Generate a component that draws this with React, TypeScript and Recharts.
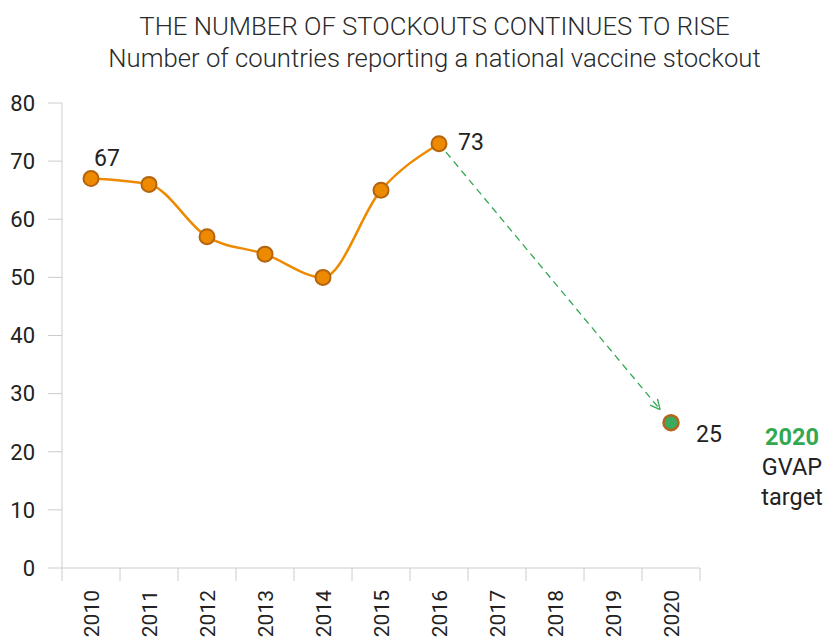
import React from "react";
import { LineChart, Line, XAxis, YAxis, ReferenceLine } from "recharts";

document.body.style.margin = "0";

// data
const years = ["2010", "2011", "2012", "2013", "2014", "2015", "2016", "2017", "2018", "2019", "2020"];
const stockouts = [67, 66, 57, 54, 50, 65, 73, null, null, null, null];
const gvapTarget = [null, null, null, null, null, null, null, null, null, null, 25];
const labelledYears = ["2010", "2016"];
const yTicks = [0, 10, 20, 30, 40, 50, 60, 70, 80];

const data = years.map((year, i) => ({
  year,
  stockouts: stockouts[i],
  target: gvapTarget[i],
}));

const lastActual = data.filter((d) => d.stockouts != null).slice(-1)[0];
const targetPoint = data.filter((d) => d.target != null)[0];

const FONT = "Roboto, 'DejaVu Sans', sans-serif";
const ORANGE = "#ee8a00";
const ORANGE_DARK = "#b3640f";
const GREEN = "#32a852";
const STEP = 58; // width of one category on the x axis

const YearTick = (props: any) => {
  const { x, y, payload, index } = props;
  const isLast = index === years.length - 1;
  return (
    <g>
      <line x1={x - STEP / 2} x2={x - STEP / 2} y1={y} y2={y + 13} stroke="#cccccc" />
      {isLast && <line x1={x + STEP / 2} x2={x + STEP / 2} y1={y} y2={y + 13} stroke="#cccccc" />}
      <text
        x={x}
        y={y + 22}
        transform={`rotate(-90 ${x} ${y + 22})`}
        textAnchor="end"
        dy="0.36em"
        fontSize={21}
        fontFamily={FONT}
        fill="#222"
      >
        {payload.value}
      </text>
    </g>
  );
};

const StockoutLabel = (props: any) => {
  const { x, y, value, index } = props;
  const year = years[index];
  if (!labelledYears.includes(year)) return null;
  // first point: label above, last point: label to the right
  const first = index === 0;
  return (
    <text
      x={first ? x + 3 : x + 19}
      y={first ? y - 13 : y + 6}
      fontSize={23}
      fontFamily={FONT}
      fill="#222"
    >
      {value}
    </text>
  );
};

const TargetLabel = (props: any) => {
  const { x, y, value } = props;
  if (value == null) return null;
  return (
    <text x={x + 25} y={y + 19} fontSize={23} fontFamily={FONT} fill="#222">
      {value}
    </text>
  );
};

// dashed arrow, trimmed so it doesn't touch the markers
const DashedArrow = (props: any) => {
  const { x1, y1, x2, y2 } = props;
  const dx = x2 - x1;
  const dy = y2 - y1;
  const len = Math.sqrt(dx * dx + dy * dy);
  const ux = dx / len;
  const uy = dy / len;
  const sx = x1 + ux * 11;
  const sy = y1 + uy * 11;
  const ex = x2 - ux * 17;
  const ey = y2 - uy * 17;
  const head = 11;
  const ang = Math.atan2(uy, ux);
  const a1 = ang + Math.PI - 0.45;
  const a2 = ang + Math.PI + 0.45;
  return (
    <g>
      <line x1={sx} y1={sy} x2={ex} y2={ey} stroke={GREEN} strokeWidth={1.3} strokeDasharray="7 5" />
      <line x1={ex} y1={ey} x2={ex + Math.cos(a1) * head} y2={ey + Math.sin(a1) * head} stroke={GREEN} strokeWidth={1.3} />
      <line x1={ex} y1={ey} x2={ex + Math.cos(a2) * head} y2={ey + Math.sin(a2) * head} stroke={GREEN} strokeWidth={1.3} />
    </g>
  );
};

export default function App() {
  return (
    <div style={{ position: "relative", width: 827, height: 639, background: "#fff", fontFamily: FONT }}>
      <div
        style={{
          position: "absolute",
          top: 10,
          left: 42,
          width: 785,
          textAlign: "center",
          color: "#2a2a2a",
          fontSize: 25.7,
          fontWeight: 300,
          lineHeight: "32px",
        }}
      >
        <div>THE NUMBER OF STOCKOUTS CONTINUES TO RISE</div>
        <div>Number of countries reporting a national vaccine stockout</div>
      </div>

      <LineChart width={827} height={639} data={data} margin={{ top: 103, right: 127, bottom: 0, left: 0 }}>
        <XAxis
          dataKey="year"
          height={71}
          padding={{ left: STEP / 2, right: STEP / 2 }}
          axisLine={{ stroke: "#cccccc" }}
          tickLine={false}
          tickSize={0}
          tickMargin={0}
          interval={0}
          tick={<YearTick />}
        />
        <YAxis
          width={62}
          domain={[0, 80]}
          ticks={yTicks}
          interval={0}
          axisLine={{ stroke: "#cccccc" }}
          tickLine={{ stroke: "#cccccc" }}
          tickSize={14}
          tickMargin={13}
          tick={{ fontSize: 22, fill: "#222", fontFamily: FONT }}
        />
        <ReferenceLine
          segment={[
            { x: lastActual.year, y: lastActual.stockouts },
            { x: targetPoint.year, y: targetPoint.target },
          ]}
          shape={DashedArrow}
        />
        <Line
          dataKey="stockouts"
          type="monotone"
          stroke={ORANGE}
          strokeWidth={2.5}
          dot={{ r: 7.5, fill: ORANGE, stroke: ORANGE_DARK, strokeWidth: 2 }}
          label={<StockoutLabel />}
          isAnimationActive={false}
        />
        <Line
          dataKey="target"
          stroke="none"
          dot={{ r: 7.5, fill: "#3aaa5c", stroke: "#b5651d", strokeWidth: 2.5 }}
          label={<TargetLabel />}
          isAnimationActive={false}
        />
      </LineChart>

      <div
        style={{
          position: "absolute",
          top: 422,
          left: 752,
          width: 80,
          textAlign: "center",
          fontSize: 23.5,
          lineHeight: "30px",
          color: "#222",
        }}
      >
        <div style={{ color: GREEN, fontWeight: 700 }}>2020</div>
        <div>GVAP</div>
        <div>target</div>
      </div>
    </div>
  );
}
